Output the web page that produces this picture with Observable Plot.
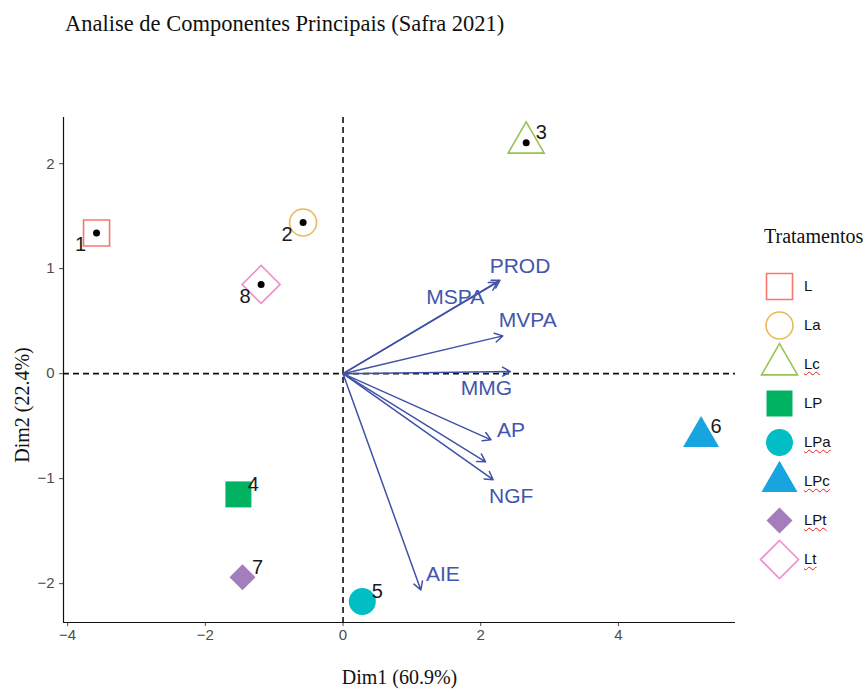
<!DOCTYPE html>
<html><head><meta charset="utf-8">
<script src="https://cdn.jsdelivr.net/npm/d3@7"></script>
<script src="https://cdn.jsdelivr.net/npm/@observablehq/plot@0.6"></script>
<style>
body{margin:0;background:#fff;width:867px;height:693px;position:relative;overflow:hidden;}
#title{position:absolute;left:65px;top:13px;font:22.5px/1 "Liberation Serif",serif;color:#111;white-space:nowrap;}
#chart{position:absolute;left:0;top:45px;}
#legend{position:absolute;left:745px;top:0;}
#ltitle{position:absolute;left:764px;top:226px;font:20px/1 "Liberation Serif",serif;color:#111;white-space:nowrap;}
#ytitle{position:absolute;left:-78px;top:394px;width:200px;text-align:center;font:20px/22px "Liberation Serif",serif;color:#111;transform:rotate(-90deg);transform-origin:center;white-space:nowrap;}
.lg{position:absolute;font:15px/18px "Liberation Sans",Arial,sans-serif;color:#111;white-space:nowrap;}
.lg.sq{text-decoration:underline wavy #e0201b;text-decoration-thickness:1px;text-underline-offset:2px;}
</style></head><body>
<div id="title">Analise de Componentes Principais (Safra 2021)</div>
<div id="chart"></div>
<div id="legend"></div>
<div id="ltitle"></div>
<div id="ytitle"></div>
<script>
// ---- data ----
const pointIds   = ["1","2","3","4","5","6","7","8"];
const treatments = ["L","La","Lc","LP","LPa","LPc","LPt","Lt"];
const dim1 = [-3.58, -0.58, 2.66, -1.52, 0.28, 5.20, -1.46, -1.19];
const dim2 = [ 1.34,  1.44, 2.20, -1.15, -2.17, -0.60, -1.94, 0.85];

const varNames = ["PROD","MSPA","MVPA","MMG","AP","","NGF","AIE"];
const varDim1  = [2.28, 2.24, 2.32, 2.43, 2.15, 2.07, 2.18, 1.13];
const varDim2  = [0.89, 0.87, 0.36, 0.02, -0.63, -0.84, -1.01, -2.06];

const xTicks = [-4, -2, 0, 2, 4];
const yTicks = [-2, -1, 0, 1, 2];
const xTitle = "Dim1 (60.9%)";
const yTitle = "Dim2 (22.4%)";
const legendTitle = "Tratamentos";
const xDomain = [-4.06, 5.7];
const yDomain = [-2.37, 2.44];

// ---- style ----
const colors = ["#F8766D","#E9B95A","#97C355","#00B261","#00BEC4","#18A5DF","#A47DBD","#EE8FC9"];
const hollow = new Set(["L","La","Lc","Lt"]);
const squiggly = new Set(["Lc","LPa","LPc","LPt","Lt"]);
const leftLabels = new Set(["1","2","8"]);
function mk(kind){
  return {draw(ctx, size){
    const r = Math.sqrt(size/Math.PI);
    if(kind==="square"){ctx.moveTo(-r,-r);ctx.lineTo(r,-r);ctx.lineTo(r,r);ctx.lineTo(-r,r);ctx.closePath();}
    else if(kind==="circle"){ctx.moveTo(r,0);ctx.arc(0,0,r,0,2*Math.PI);ctx.closePath();}
    else if(kind==="triangle"){const h=r*Math.sqrt(3);ctx.moveTo(0,-2*h/3);ctx.lineTo(r,h/3);ctx.lineTo(-r,h/3);ctx.closePath();}
    else {ctx.moveTo(0,-r);ctx.lineTo(r,0);ctx.lineTo(0,r);ctx.lineTo(-r,0);ctx.closePath();}
  }};
}
const symByTreat = {L:mk("square"),La:mk("circle"),Lc:mk("triangle"),LP:mk("square"),LPa:mk("circle"),LPc:mk("triangle"),LPt:mk("diamond"),Lt:mk("diamond")};
const radius = {L:13,La:13.5,Lc:18,LP:13,LPa:13.5,LPc:18,LPt:13,Lt:19};
const labelOffset = {PROD:[20,-14],MSPA:[-42,15],MVPA:[25,-16],MMG:[-24,17],AP:[20,-10],NGF:[18,17],AIE:[22,-16]};
const arrowColor = "#3F52A8", labelColor = "#4256AE";
const serif = "'Liberation Serif', 'Times New Roman', serif";
const sans = "'Liberation Sans', Arial, sans-serif";
const fmt = d => (d < 0 ? "\u2212" : "") + Math.abs(d);

const pts = pointIds.map((id,i)=>({id, treat:treatments[i], x:dim1[i], y:dim2[i]}));
const vars = varNames.map((name,i)=>({name, x:varDim1[i], y:varDim2[i]}));

const symbolScale = {domain:treatments, range:treatments.map(t=>symByTreat[t])};
const colorScale = {domain:treatments, range:colors};

const chart = Plot.plot({
  width:867, height:648,
  marginLeft:63, marginRight:132, marginTop:72, marginBottom:71,
  style:{fontFamily:sans, fontSize:"15px", color:"#4d4d4d", background:"white"},
  x:{domain:xDomain, ticks:xTicks, tickFormat:fmt, tickSize:4, tickPadding:3, label:null},
  y:{domain:yDomain, ticks:yTicks, tickFormat:fmt, tickSize:4, tickPadding:5, label:null},
  r:{type:"identity"},
  symbol:symbolScale,
  color:colorScale,
  marks:[
    Plot.ruleX([0], {stroke:"#111", strokeWidth:1.6, strokeDasharray:"6,4"}),
    Plot.ruleY([0], {stroke:"#111", strokeWidth:1.6, strokeDasharray:"6,4"}),
    Plot.ruleX([xDomain[0]], {stroke:"#111", strokeWidth:1.2}),
    Plot.ruleY([yDomain[0]], {stroke:"#111", strokeWidth:1.2}),
    Plot.arrow(vars, {x1:0, y1:0, x2:"x", y2:"y", stroke:arrowColor, strokeWidth:1.5, headLength:9, headAngle:60}),
    ...vars.filter(v=>v.name).map(v=>Plot.text([v], {x:"x", y:"y", text:"name", dx:labelOffset[v.name][0], dy:labelOffset[v.name][1], fill:labelColor, fontSize:21, fontFamily:sans})),
    Plot.dot(pts.filter(d=>hollow.has(d.treat)), {x:"x", y:"y", symbol:"treat", r:d=>radius[d.treat], stroke:"treat", fill:"none", strokeWidth:1.6}),
    Plot.dot(pts.filter(d=>!hollow.has(d.treat)), {x:"x", y:"y", symbol:"treat", r:d=>radius[d.treat], fill:"treat", stroke:"none"}),
    Plot.dot(pts.filter(d=>hollow.has(d.treat)), {x:"x", y:"y", r:3.5, fill:"black"}),
    Plot.text(pts.filter(d=>leftLabels.has(d.id)), {x:"x", y:"y", text:"id", dx:-16, dy:12, fontSize:20, fill:"#1a1a1a", fontFamily:sans}),
    Plot.text(pts.filter(d=>!leftLabels.has(d.id)), {x:"x", y:"y", text:"id", dx:15, dy:-10, fontSize:20, fill:"#1a1a1a", fontFamily:sans}),
    Plot.text([xTitle], {frameAnchor:"bottom", text:d=>d, dy:61, fontFamily:serif, fontSize:20, fill:"#111"})
  ]
});
document.getElementById("chart").appendChild(chart);
document.getElementById("ytitle").textContent = yTitle;

const legend = Plot.plot({
  width:122, height:693, margin:0,
  x:{domain:[0,1], axis:null},
  y:{type:"point", domain:treatments, range:[283,562], padding:0, axis:null},
  r:{type:"identity"},
  symbol:symbolScale,
  color:colorScale,
  style:{background:"transparent", fontFamily:sans},
  marks:[
    Plot.dot(treatments.filter(t=>hollow.has(t)), {y:d=>d, frameAnchor:"left", dx:34, symbol:d=>d, r:d=>radius[d], stroke:d=>d, fill:"none", strokeWidth:1.6}),
    Plot.dot(treatments.filter(t=>!hollow.has(t)), {y:d=>d, frameAnchor:"left", dx:34, symbol:d=>d, r:d=>radius[d], fill:d=>d, stroke:"none"})
  ]
});
document.getElementById("legend").appendChild(legend);
// legend labels as HTML (to allow the wavy underline), placed with the legend's own y scale
const ly = legend.scale("y");
treatments.forEach(t=>{
  const el = document.createElement("div");
  el.className = "lg" + (squiggly.has(t) ? " sq" : "");
  el.textContent = t;
  el.style.left = "804px";
  el.style.top = (ly.apply(t) - 9) + "px";
  document.body.appendChild(el);
});
document.getElementById("ltitle").textContent = legendTitle;
</script>
</body></html>
